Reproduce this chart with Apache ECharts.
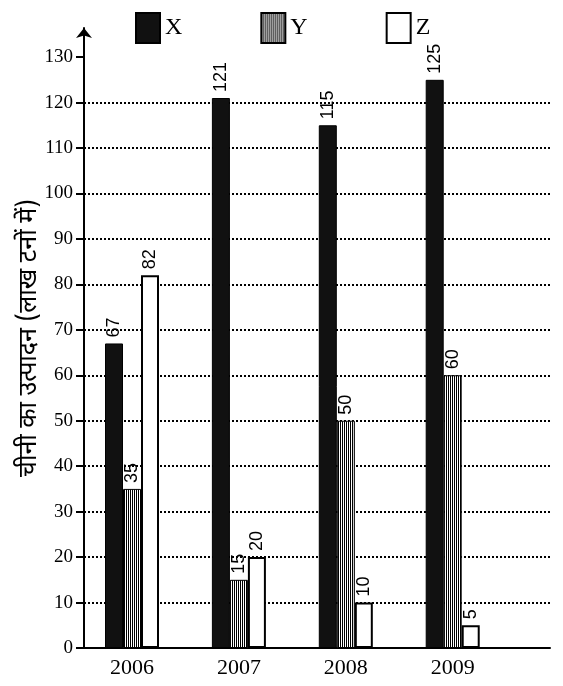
<!DOCTYPE html>
<html>
<head>
<meta charset="utf-8">
<script src="https://cdn.jsdelivr.net/npm/echarts@6/dist/echarts.min.js"></script>
<style>
  html, body { margin: 0; padding: 0; background: #fff; }
  #main { width: 563px; height: 686px; }
</style>
</head>
<body>
<div id="main"></div>
<script>
var years = ['2006', '2007', '2008', '2009'];
var seriesNames = ['X', 'Y', 'Z'];
var xVals = [67, 121, 115, 125];
var yVals = [35, 15, 50, 60];
var zVals = [82, 20, 10, 5];
var yTicks = [0, 10, 20, 30, 40, 50, 60, 70, 80, 90, 100, 110, 120, 130];

// vertical hatch used for the Y bars
function stripes() {
    var c = document.createElement('canvas');
    c.width = 2;
    c.height = 8;
    var ctx = c.getContext('2d');
    ctx.fillStyle = '#fff';
    ctx.fillRect(0, 0, 2, 8);
    ctx.fillStyle = '#000';
    ctx.fillRect(0, 0, 1, 8);
    return c;
}

function pairs(vals) {
    return vals.map(function (v, i) { return [i, v]; });
}

var barLabel = {
    show: true,
    position: 'top',
    rotate: 90,
    align: 'left',
    verticalAlign: 'middle',
    distance: 6,
    color: '#000',
    fontFamily: 'Liberation Sans',
    fontSize: 18
};

var myChart = echarts.init(document.getElementById('main'));

var option = {
    backgroundColor: '#fff',
    animation: false,
    grid: {
        left: 84,
        right: 13,
        top: 28,
        bottom: 38
    },
    legend: {
        left: 130,
        top: 7,
        itemWidth: 24,
        itemHeight: 30,
        itemGap: 78,
        icon: 'rect',
        textStyle: {
            fontFamily: 'Liberation Serif',
            fontSize: 24,
            color: '#000'
        },
        data: seriesNames
    },
    xAxis: {
        type: 'value',
        min: -0.449,
        max: 3.91,
        axisLine: { onZero: false, lineStyle: { color: '#000', width: 2 } },
        axisTick: { show: false },
        splitLine: { show: false },
        axisLabel: {
            customValues: [0, 1, 2, 3],
            formatter: function (v) { return years[Math.round(v)]; },
            margin: 9,
            color: '#000',
            fontFamily: 'Liberation Serif',
            fontSize: 22
        }
    },
    yAxis: {
        type: 'value',
        min: 0,
        max: 136.4,
        name: 'चीनी का उत्पादन (लाख टनों में)',
        nameLocation: 'middle',
        nameGap: 40,
        nameMoveOverlap: false,
        nameTextStyle: {
            fontFamily: 'Noto Sans Devanagari, Noto Sans, sans-serif',
            fontSize: 25,
            color: '#000'
        },
        axisLine: {
            show: true,
            onZero: false,
            symbol: ['none', 'arrow'],
            symbolSize: [12, 10],
            lineStyle: { color: '#000', width: 2 }
        },
        axisTick: {
            show: true,
            customValues: yTicks,
            length: 8,
            lineStyle: { color: '#000', width: 2 }
        },
        axisLabel: {
            customValues: yTicks,
            margin: 11,
            color: '#000',
            fontFamily: 'Liberation Serif',
            fontSize: 19
        },
        splitLine: {
            show: true,
            customValues: yTicks,
            showMinLine: false,
            showMaxLine: false,
            lineStyle: { color: '#000', width: 2, type: [2, 2] }
        }
    },
    series: [
        {
            name: 'X',
            type: 'bar',
            data: pairs(xVals),
            barWidth: 18,
            barGap: '0%',
            itemStyle: { color: '#111', borderColor: '#000', borderWidth: 1 },
            label: barLabel
        },
        {
            name: 'Y',
            type: 'bar',
            data: pairs(yVals),
            barWidth: 18,
            barGap: '0%',
            itemStyle: {
                color: { image: stripes(), repeat: 'repeat' },
                borderColor: '#000',
                borderWidth: 1
            },
            label: barLabel
        },
        {
            name: 'Z',
            type: 'bar',
            data: pairs(zVals),
            barWidth: 18,
            barGap: '0%',
            itemStyle: { color: '#fff', borderColor: '#000', borderWidth: 2 },
            label: barLabel
        }
    ]
};

myChart.setOption(option);
</script>
</body>
</html>
